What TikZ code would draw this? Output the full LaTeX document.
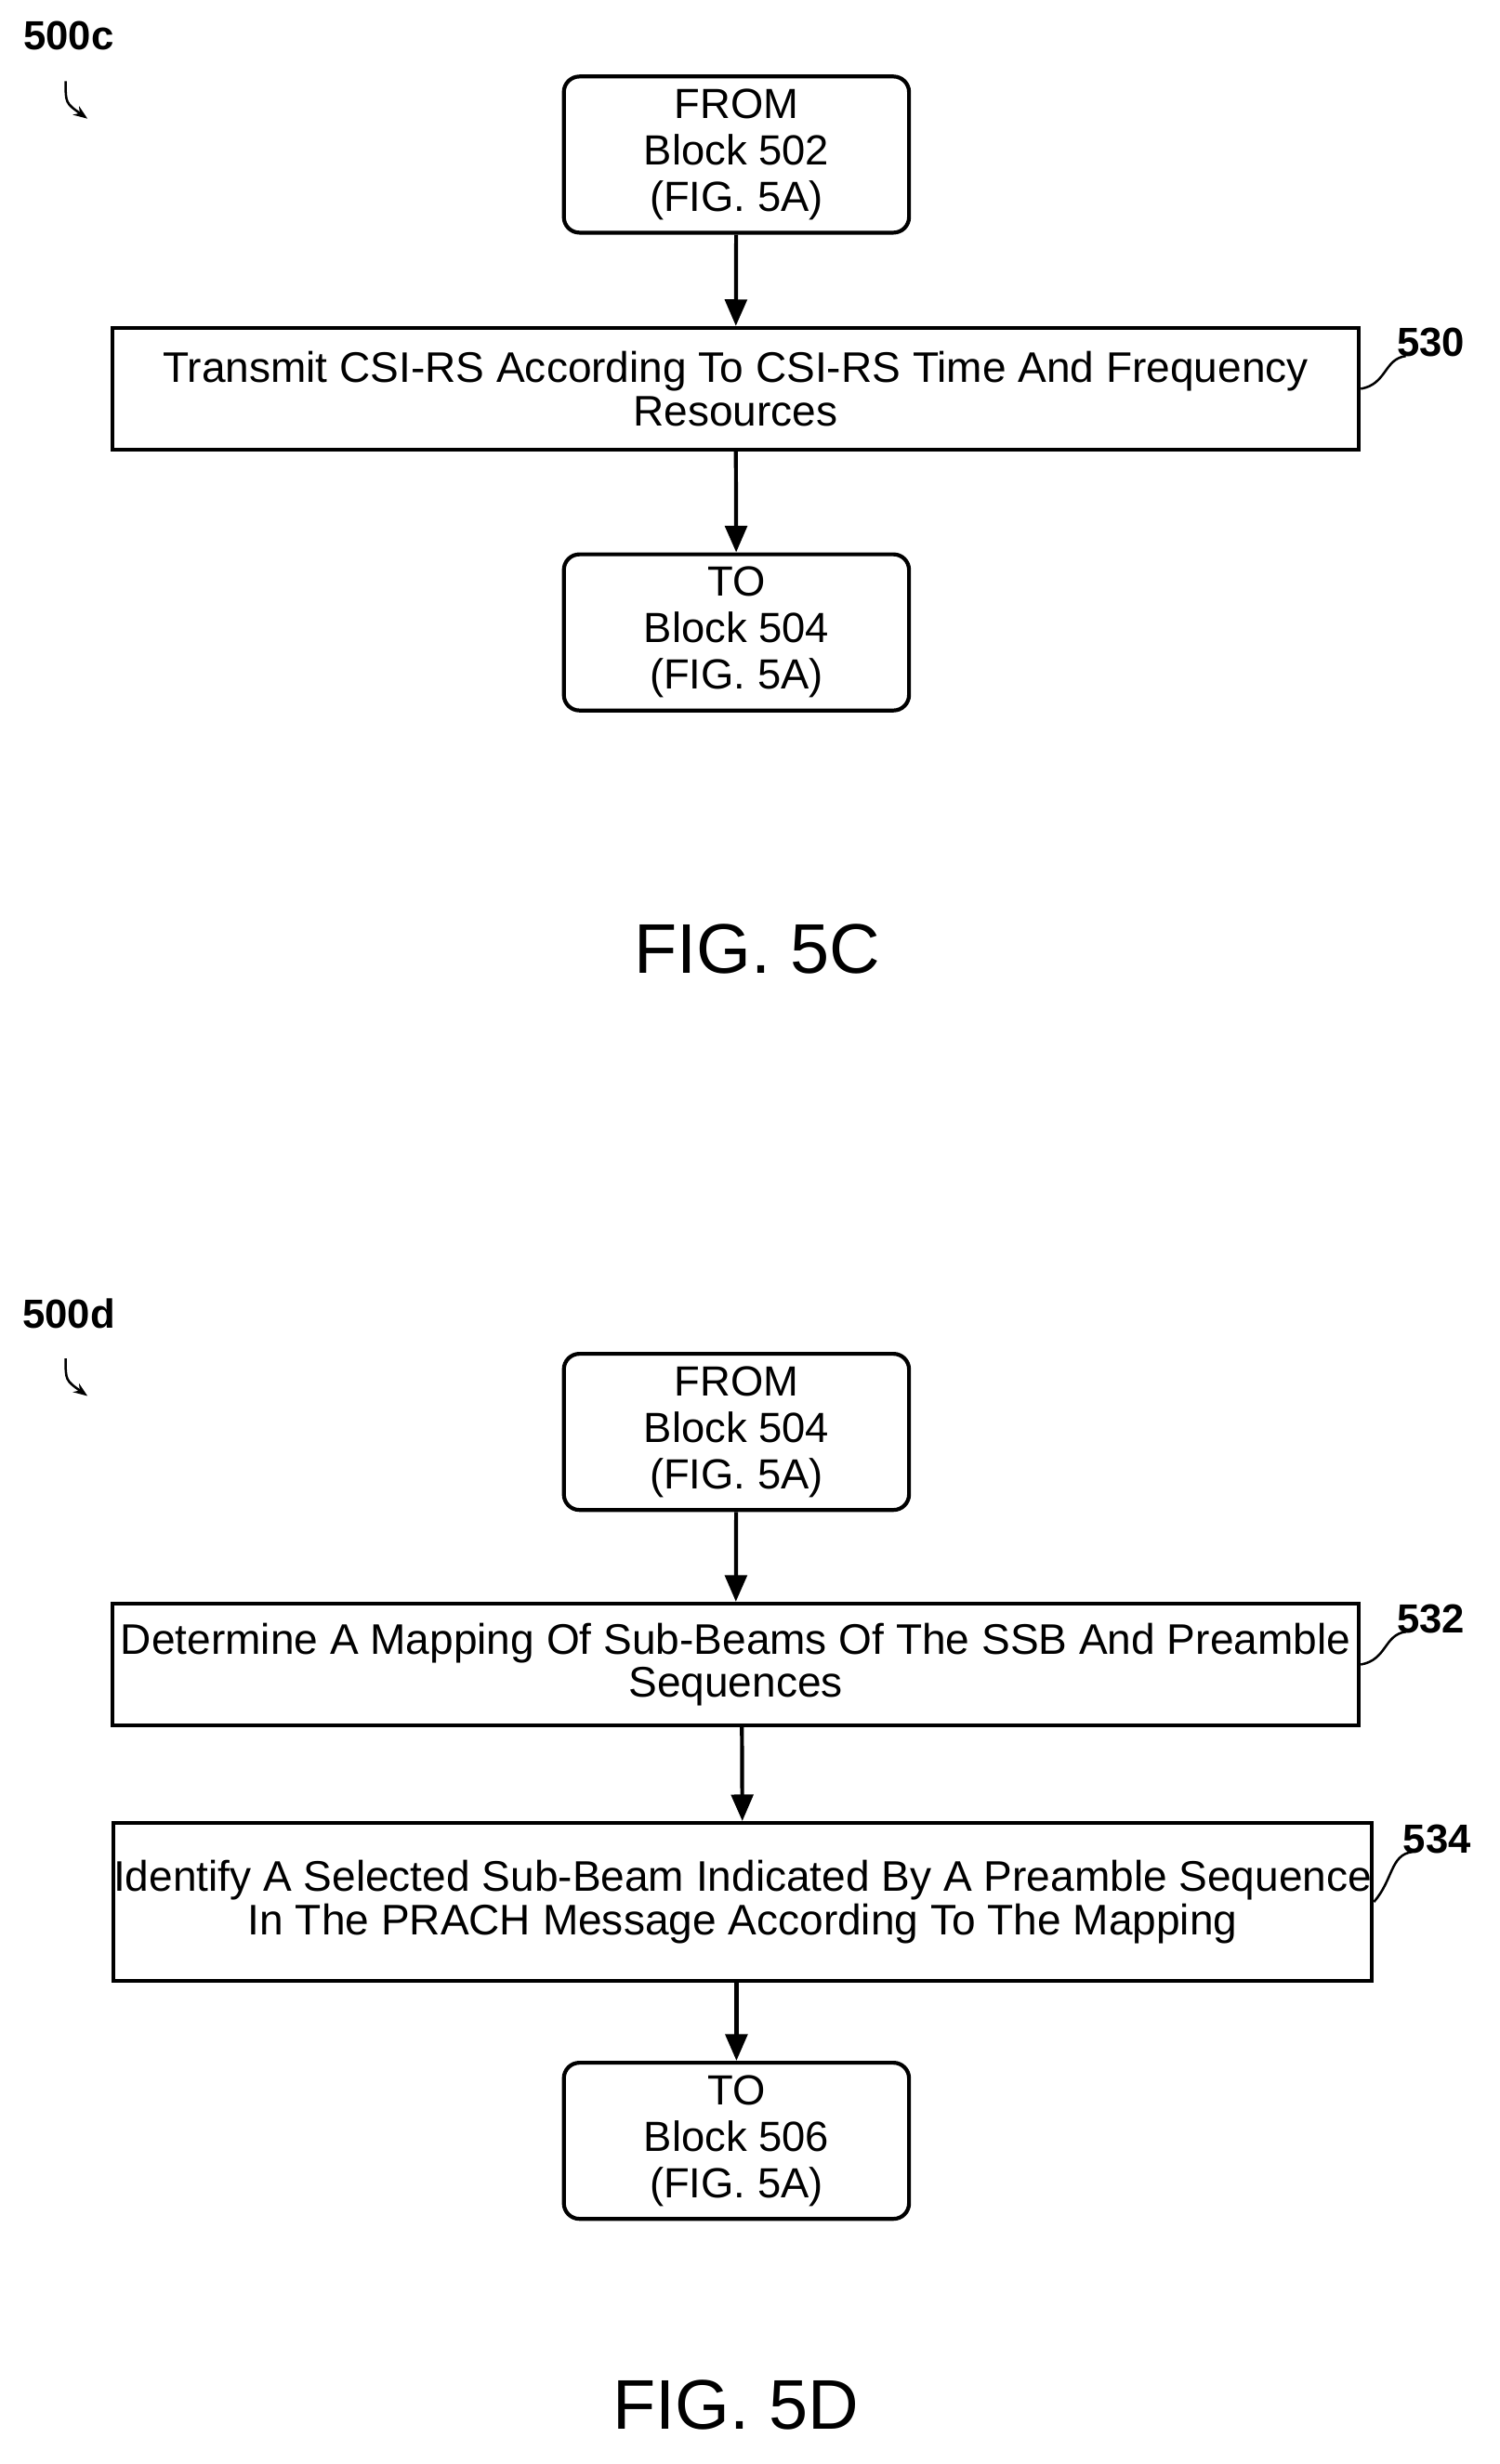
\documentclass[tikz,border=0pt]{standalone}
\usepackage{fontspec}
\setmainfont{Liberation Sans}
\usetikzlibrary{arrows.meta}
\begin{document}
\begin{tikzpicture}[x=1pt,y=-1pt,
 term/.style={draw,line width=2.5pt,rounded corners=10pt,minimum width=221pt,minimum height=100pt,align=center,inner sep=0pt,font=\fontsize{27}{29.8}\selectfont},
 proc/.style={draw,line width=2.5pt,align=center,inner sep=0pt,font=\fontsize{27.4}{27.8}\selectfont},
 arr/.style={line width=2.5pt,-{Triangle[length=17pt,width=14pt]}},
 lab/.style={font=\bfseries\fontsize{26}{28}\selectfont},
 lead/.style={line width=1.5pt},
 fig/.style={font=\fontsize{45}{48}\selectfont}]
\useasboundingbox (0,0) rectangle (960,1578);
% 5C
\node[lab] (n500c) at (44,23) {500c};
\coordinate (a1) at (42,52); \coordinate (a2) at (56,76);
\draw[lead,-{Stealth[length=9pt]}] (a1) .. controls (42,66) .. (a2);
\node[term] (f1) at (471.5,99) {FROM\\Block 502\\(FIG. 5A)};
\node[proc,minimum width=798pt,minimum height=78pt] (b530) at (471,249) {Transmit CSI-RS According To CSI-RS Time And Frequency\\Resources};
\node[term] (t1) at (471.5,405) {TO\\Block 504\\(FIG. 5A)};
\draw[arr] (f1) -- (b530);
\draw[arr] (b530) -- (t1);
\node[lab] (l530) at (916,219) {530};
\draw[lead] (b530.east) .. controls (888,246) and (886,230) .. (900,228);
\node[fig] (fig5c) at (485,608) {FIG. 5C};
% 5D
\node[lab] (n500d) at (44,841) {500d};
\coordinate (c1) at (42,870); \coordinate (c2) at (56,894);
\draw[lead,-{Stealth[length=9pt]}] (c1) .. controls (42,884) .. (c2);
\node[term] (f2) at (471.5,917) {FROM\\Block 504\\(FIG. 5A)};
\node[proc,minimum width=798pt,minimum height=78pt] (b532) at (471,1066) {Determine A Mapping Of Sub-Beams Of The SSB And Preamble\\Sequences};
\node[proc,minimum width=799pt,minimum height=101pt] (b534) at (475.5,1218) {Identify A Selected Sub-Beam Indicated By A Preamble Sequence\\In The PRACH Message According To The Mapping};
\node[term] (t2) at (471.5,1371) {TO\\Block 506\\(FIG. 5A)};
\draw[arr] (f2) -- (b532);
\draw[arr] (475,1105) -- (b534);
\draw[arr] (b534.south -| t2) -- (t2);
\node[lab] (l532) at (916,1037) {532};
\draw[lead] (b532.east) .. controls (888,1063) and (886,1047) .. (900,1045);
\node[lab] (l534) at (920,1178) {534};
\draw[lead] (b534.east) .. controls (892,1204) and (890,1188) .. (904,1186);
\node[fig] (fig5d) at (471,1540) {FIG. 5D};
\end{tikzpicture}
\end{document}
